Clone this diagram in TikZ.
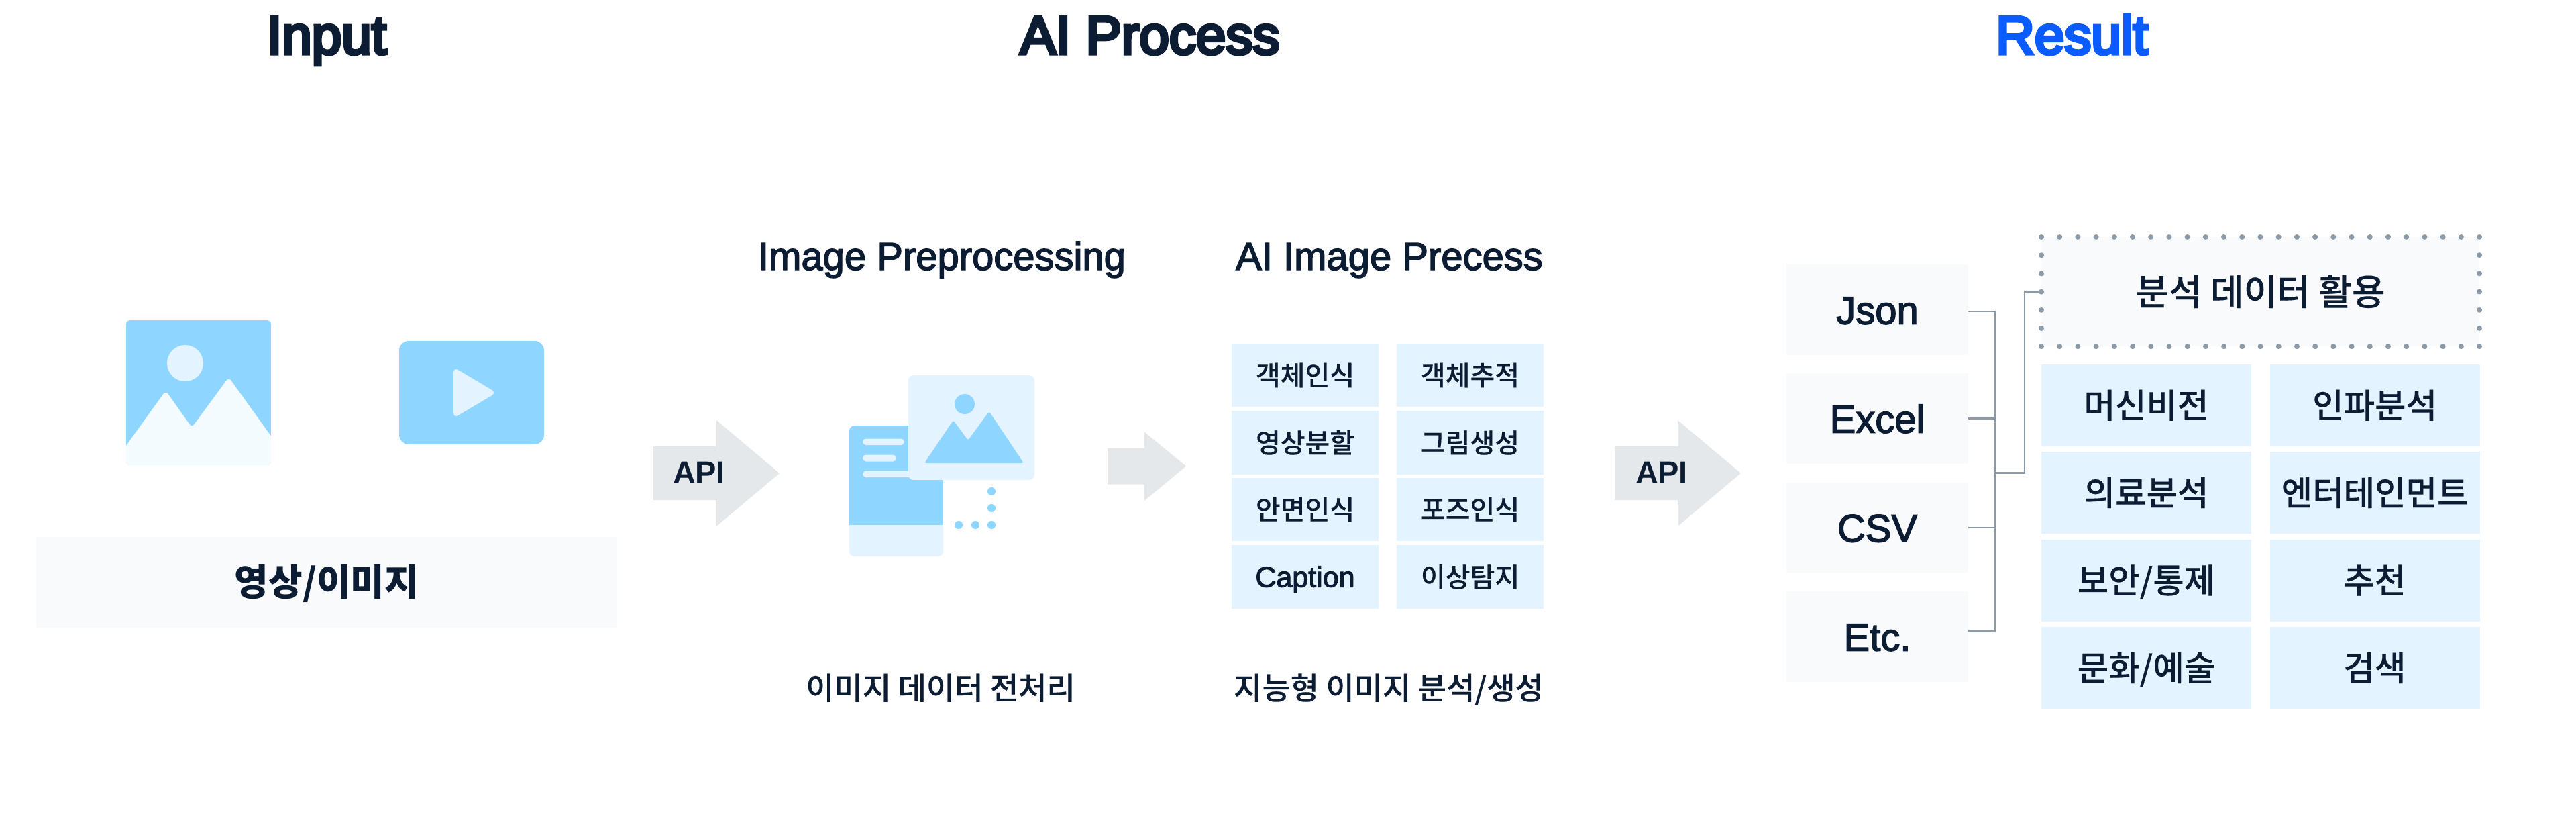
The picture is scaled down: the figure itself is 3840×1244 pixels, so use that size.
\documentclass[tikz,border=0pt]{standalone}
\usepackage{fontspec}
\setmainfont{Noto Sans CJK KR}
\newfontfamily\medfont[FakeBold=0.2]{Noto Sans CJK KR Medium}
\newfontfamily\latinfont[FakeBold=2.5]{Liberation Sans}
\newfontfamily\titlefont[FakeBold=6]{Liberation Sans}
\newfontfamily\apifont[LetterSpace=-1.5]{Liberation Sans Bold}
\definecolor{inkblue}{HTML}{0B1C33}
\definecolor{resultblue}{HTML}{0A5CFF}
\definecolor{skyblue}{HTML}{8ED5FF}
\definecolor{lightblue}{HTML}{E3F3FF}
\definecolor{paleblue}{HTML}{F4FBFF}
\definecolor{panelgray}{HTML}{F8FAFC}
\definecolor{arrowgray}{HTML}{E5E8EB}
\definecolor{linkgray}{HTML}{8D9BA9}
\tikzset{
  titlelabel/.style={anchor=base, inner sep=0, text=inkblue, font=\titlefont\fontsize{80}{90}\selectfont},
  sublabel/.style={anchor=base, inner sep=0, text=inkblue, font=\latinfont\fontsize{58}{64}\selectfont},
  captionlabel/.style={anchor=base, inner sep=0, text=inkblue, font=\medfont\fontsize{46}{52}\selectfont},
  apilabel/.style={inner sep=0, text=inkblue, font=\apifont\fontsize{47}{52}\selectfont},
  modelbox/.style={rectangle, inner sep=0, fill=lightblue, text=inkblue,
    minimum width=219.5pt, minimum height=94.5pt, text height=35pt, text depth=5pt,
    font=\medfont\fontsize{40}{48}\selectfont},
  usebox/.style={rectangle, inner sep=0, fill=lightblue, text=inkblue,
    minimum width=313pt, minimum height=122pt, text height=44pt, text depth=6.3pt,
    font=\medfont\fontsize{50.5}{56}\selectfont},
  formatbox/.style={rectangle, inner sep=0, fill=panelgray, text=inkblue,
    minimum width=271pt, minimum height=134.5pt, text height=50pt, text depth=7.5pt,
    font=\latinfont\fontsize{58}{62}\selectfont},
  linkline/.style={draw=linkgray, line width=2.8pt},
}
\begin{document}
\begin{tikzpicture}[x=1pt, y=-1pt]
  \useasboundingbox (0,0) rectangle (3840,1244);
% TITLES
  \node[titlelabel] (title_input) at (487,80.3) {Input};
  \node[titlelabel] (title_process) at (1714,80.3) {AI Process};
  \node[titlelabel, text=resultblue] (title_result) at (3088.5,80.3) {Result};

% INPUT
  \begin{scope}
    \clip[rounded corners=6pt] (188,477) rectangle (404,693);
    \fill[skyblue] (188,477) rectangle (404,693);
    \fill[paleblue, rounded corners=6pt] (170,689) -- (247,582) -- (286,637) -- (341,562) -- (420,672)
      -- (420,710) -- (170,710) -- cycle;
  \end{scope}
  \fill[lightblue] (276,541) circle (27pt);
  \fill[skyblue, rounded corners=14pt] (595,508) rectangle (811,662);
  \fill[lightblue, rounded corners=8pt] (676,547) -- (740,585) -- (676,623) -- cycle;
  \node[rectangle, inner sep=0, fill=panelgray, text=inkblue,
    minimum width=866pt,
    minimum height=135pt,
    text height=48pt,
    text depth=7pt,
    font=\bfseries\fontsize{55}{60}\selectfont] (input_bar) at (487,867) {영상/이미지};

% FIRST API
  \fill[arrowgray] (974,665) -- (1068,665) -- (1068,626) -- (1162,705) -- (1068,784) -- (1068,745) -- (974,745) -- cycle;
  \node[apilabel] (api_1) at (1042,704) {API};

% PREPROCESSING
  \node[sublabel] (sub_pre) at (1404,402) {Image Preprocessing};
  \begin{scope}
    \clip[rounded corners=8pt] (1266,634) rectangle (1406,829);
    \fill[lightblue] (1266,634) rectangle (1406,829);
    \fill[skyblue] (1266,634) rectangle (1406,782);
  \end{scope}
  \fill[lightblue, rounded corners=5pt] (1286,653.5) rectangle (1348,663);
  \fill[lightblue, rounded corners=5pt] (1286,677.5) rectangle (1336,687.5);
  \fill[lightblue, rounded corners=5pt] (1286,701.5) rectangle (1370,711);
  \fill[lightblue, rounded corners=8pt] (1354,559) rectangle (1542,715);
  \fill[skyblue] (1438,602) circle (15pt);
  \fill[skyblue, rounded corners=3pt] (1378,690) -- (1421,626) -- (1443,656) -- (1474.5,613) -- (1526,690) -- cycle;
  \fill[skyblue] (1478,732) circle (6pt);
  \fill[skyblue] (1478,757) circle (6pt);
  \fill[skyblue] (1478,782) circle (6pt);
  \fill[skyblue] (1454,782) circle (6pt);
  \fill[skyblue] (1429,782) circle (6pt);
  \node[captionlabel] (cap_pre) at (1402,1042) {이미지 데이터 전처리};

% MIDDLE ARROW
  \fill[arrowgray] (1651,667.5) -- (1706,667.5) -- (1706,643.5) -- (1768,694.5) -- (1706,746) -- (1706,721.5) -- (1651,721.5) -- cycle;

% AI IMAGE
  \node[sublabel] (sub_ai) at (2071,402) {AI Image Precess};
  \node[modelbox] (model_1a) at (1945.5,559) {객체인식};
  \node[modelbox] (model_1b) at (2191.5,559) {객체추적};
  \node[modelbox] (model_2a) at (1945.5,659.5) {영상분할};
  \node[modelbox] (model_2b) at (2191.5,659.5) {그림생성};
  \node[modelbox] (model_3a) at (1945.5,759) {안면인식};
  \node[modelbox] (model_3b) at (2191.5,759) {포즈인식};
  \node[modelbox, font=\latinfont\fontsize{43}{48}\selectfont] (model_4a) at (1945.5,859.5) {Caption};
  \node[modelbox] (model_4b) at (2191.5,859.5) {이상탐지};
  \node[captionlabel] (cap_ai) at (2070,1042) {지능형 이미지 분석/생성};

% SECOND API
  \fill[arrowgray] (2407,665) -- (2501,665) -- (2501,626) -- (2595,705) -- (2501,784) -- (2501,745) -- (2407,745) -- cycle;
  \node[apilabel] (api_2) at (2477,704) {API};

% RESULT
  \node[formatbox] (fmt_json) at (2798.5,461.3) {Json};
  \node[formatbox] (fmt_excel) at (2798.5,623.5) {Excel};
  \node[formatbox] (fmt_csv) at (2798.5,786) {CSV};
  \node[formatbox] (fmt_etc) at (2798.5,948.3) {Etc.};

  \node[rectangle, inner sep=0, fill=panelgray, text=inkblue,
    draw=linkgray,
    line width=8pt,
    line cap=round,
    dash pattern=on 0pt off 27.21pt,
    minimum width=653pt,
    minimum height=163.26pt,
    text height=47pt,
    text depth=7pt,
    font=\medfont\fontsize{54}{60}\selectfont] (use_head) at (3369.5,434.6) {분석 데이터 활용};

  \node[usebox] (use_1a) at (3199.5,603.8) {머신비전};
  \node[usebox] (use_1b) at (3540,603.8) {인파분석};
  \node[usebox] (use_2a) at (3199.5,734) {의료분석};
  \node[usebox] (use_2b) at (3540,734) {엔터테인먼트};
  \node[usebox] (use_3a) at (3199.5,864.6) {보안/통제};
  \node[usebox] (use_3b) at (3540,864.6) {추천};
  \node[usebox] (use_4a) at (3199.5,995) {문화/예술};
  \node[usebox] (use_4b) at (3540,995) {검색};

  \coordinate (trunk) at (2974,704.5);
  \coordinate (elbow) at (3018,704.5);
  \draw[linkline] ([yshift=-2.7pt]fmt_json.east) -| (trunk);
  \draw[linkline] (fmt_excel.east) -| (trunk);
  \draw[linkline] (fmt_csv.east) -| (trunk);
  \draw[linkline] ([yshift=7.8pt]fmt_etc.east) -| (trunk);
  \draw[linkline] (trunk) -- (elbow) |- (use_head.west);
\end{tikzpicture}
\end{document}
